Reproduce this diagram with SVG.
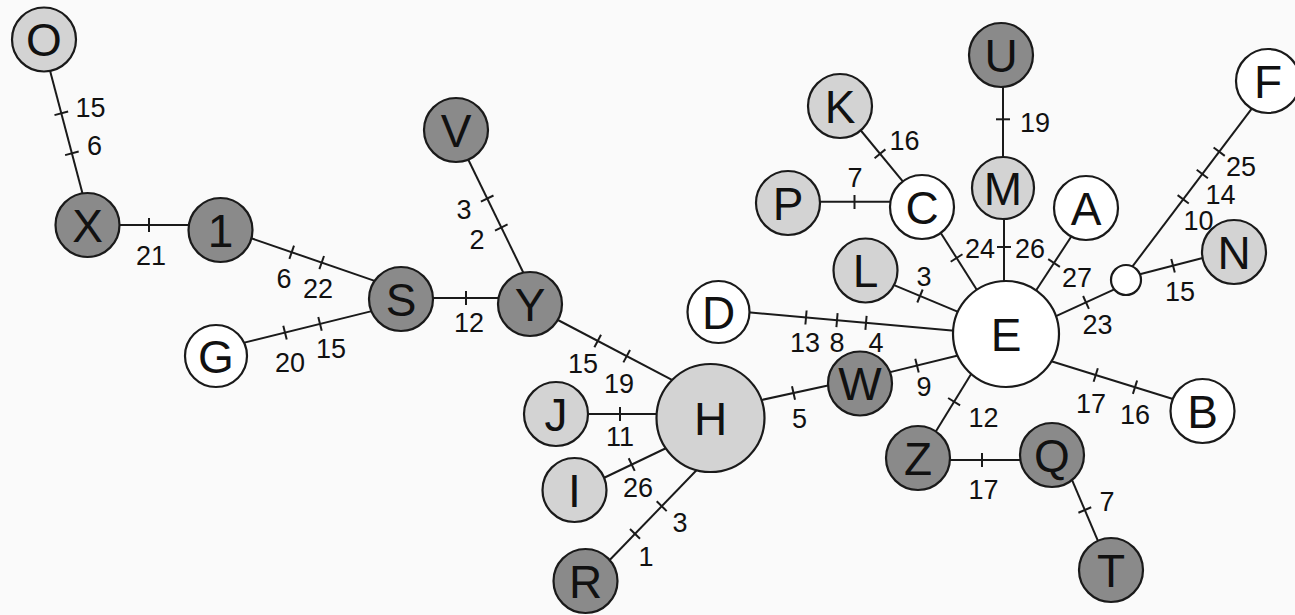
<svg xmlns="http://www.w3.org/2000/svg" width="1295" height="615" viewBox="0 0 1295 615">
<style>
.e line{stroke:#1a1a1a;stroke-width:2;fill:none}
.t{stroke:#1a1a1a;stroke-width:2}
.n circle{stroke:#1a1a1a;stroke-width:2.2}
.dk{fill:#8a8a8a}.lt{fill:#d3d3d3}.wh{fill:#ffffff}
.nl{font-family:"Liberation Sans",Arial,sans-serif;font-size:46px;fill:#111;text-anchor:middle}
.el{font-family:"Liberation Sans",Arial,sans-serif;font-size:27px;fill:#111;text-anchor:middle}
</style>
<rect width="1295" height="615" fill="#fafafa"/>
<g id="connectors" class="e">
<line x1="48" y1="63" x2="84.7" y2="201.7"/>
<line x1="54.5" y1="115.1" x2="68.1" y2="111.5"/><line x1="65.1" y1="155.1" x2="78.7" y2="151.5"/>
<line x1="112" y1="225" x2="196" y2="225"/>
<line x1="149" y1="218" x2="149" y2="232"/>
<line x1="244.4" y1="235.9" x2="382.6" y2="283.6"/>
<line x1="289.4" y1="258.8" x2="294" y2="245.6"/><line x1="319.4" y1="269.2" x2="324" y2="256"/>
<line x1="239.2" y1="343.9" x2="377.8" y2="309.6"/>
<line x1="283.3" y1="325.8" x2="286.7" y2="339.4"/><line x1="318.3" y1="317.1" x2="321.7" y2="330.7"/>
<line x1="425" y1="298" x2="506" y2="298"/>
<line x1="466" y1="291" x2="466" y2="305"/>
<line x1="464.8" y1="152.5" x2="527.5" y2="281.2"/>
<line x1="480.9" y1="201.7" x2="493.5" y2="195.5"/><line x1="495" y1="230.6" x2="507.6" y2="224.4"/>
<line x1="552.2" y1="317" x2="681" y2="384.7"/>
<line x1="594.4" y1="347.2" x2="601" y2="334.8"/><line x1="623.4" y1="362.4" x2="630" y2="350"/>
<line x1="582" y1="414" x2="664" y2="414"/>
<line x1="620" y1="407" x2="620" y2="421"/>
<line x1="599.5" y1="480" x2="670.5" y2="446"/>
<line x1="628.7" y1="458.3" x2="634.7" y2="470.9"/>
<line x1="606.1" y1="563.8" x2="702.3" y2="464.2"/>
<line x1="630" y1="529" x2="640" y2="538.8"/><line x1="656.7" y1="501.3" x2="666.7" y2="511.1"/>
<line x1="756.8" y1="401" x2="836" y2="383.7"/>
<line x1="792" y1="386.2" x2="795" y2="399.8"/>
<line x1="742.5" y1="311.8" x2="960" y2="331.2"/>
<line x1="806.6" y1="310.5" x2="805.4" y2="324.5"/><line x1="837.6" y1="313.2" x2="836.4" y2="327.2"/><line x1="866.6" y1="315.8" x2="865.4" y2="329.8"/>
<line x1="884" y1="373.6" x2="961" y2="354.8"/>
<line x1="915.3" y1="358.8" x2="918.7" y2="372.4"/>
<line x1="973.6" y1="369.9" x2="931.5" y2="438.5"/>
<line x1="948.1" y1="398" x2="960.1" y2="405.4"/>
<line x1="942" y1="460" x2="1028" y2="460"/>
<line x1="982" y1="453" x2="982" y2="467"/>
<line x1="1068.9" y1="472.6" x2="1100.7" y2="547.4"/>
<line x1="1078.4" y1="512.75" x2="1091.2" y2="507.25"/>
<line x1="1044.9" y1="359.3" x2="1178.6" y2="400.7"/>
<line x1="1097.8" y1="368.3" x2="1093.6" y2="381.7"/><line x1="1137.1" y1="380.5" x2="1132.9" y2="393.9"/>
<line x1="1051.1" y1="318.3" x2="1120.3" y2="286.7"/>
<line x1="1083.1" y1="296" x2="1088.9" y2="308.8"/>
<line x1="1133" y1="276" x2="1210.4" y2="256"/>
<line x1="1171.3" y1="258.9" x2="1174.8" y2="272.5"/>
<line x1="1127.2" y1="273.4" x2="1254.8" y2="104.6"/>
<line x1="1177.6" y1="195.1" x2="1188.8" y2="203.5"/><line x1="1196.7" y1="169.8" x2="1207.9" y2="178.2"/><line x1="1213.6" y1="147.5" x2="1224.8" y2="155.9"/>
<line x1="1033.2" y1="294.7" x2="1075.4" y2="230.3"/>
<line x1="1048.2" y1="259.2" x2="1059.9" y2="266.8"/>
<line x1="1004" y1="290" x2="1004" y2="211"/>
<line x1="997" y1="247" x2="1011" y2="247"/>
<line x1="1003" y1="164" x2="1003" y2="79"/>
<line x1="996" y1="119.3" x2="1010" y2="119.3"/>
<line x1="936.5" y1="226.2" x2="979.3" y2="293.8"/>
<line x1="950.7" y1="261.75" x2="962.5" y2="254.25"/>
<line x1="886.3" y1="281.9" x2="961.1" y2="313.1"/>
<line x1="922.7" y1="289.5" x2="917.3" y2="302.5"/>
<line x1="855.9" y1="124.5" x2="906.7" y2="186.2"/>
<line x1="874.6" y1="158.2" x2="885.4" y2="149.4"/>
<line x1="812" y1="201.7" x2="898" y2="201.7"/>
<line x1="854.5" y1="195" x2="854.5" y2="209"/>
</g>
<g id="edge-labels" class="el">
<text x="90.5" y="117">15</text><text x="94.5" y="155">6</text>
<text x="151" y="265">21</text>
<text x="284" y="288">6</text><text x="318" y="298">22</text>
<text x="290" y="372">20</text><text x="331" y="358">15</text>
<text x="469" y="332">12</text>
<text x="464" y="219">3</text><text x="477" y="249">2</text>
<text x="583" y="373">15</text><text x="619" y="393">19</text>
<text x="620" y="446">11</text>
<text x="638" y="497">26</text>
<text x="680" y="532">3</text><text x="646" y="566">1</text>
<text x="799.6" y="428">5</text>
<text x="805" y="352">13</text><text x="837" y="352">8</text><text x="876" y="352">4</text>
<text x="924" y="396">9</text>
<text x="983.5" y="427">12</text>
<text x="983.5" y="499">17</text>
<text x="1107" y="511">7</text>
<text x="1091" y="413">17</text><text x="1135" y="424">16</text>
<text x="1097.6" y="334">23</text>
<text x="1180" y="301">15</text>
<text x="1198.5" y="230">10</text><text x="1220.6" y="204">14</text><text x="1241" y="176">25</text>
<text x="1077" y="287">27</text>
<text x="1030" y="258">26</text>
<text x="980" y="258">24</text>
<text x="924" y="286">3</text>
<text x="904.6" y="150">16</text>
<text x="855" y="187">7</text>
<text x="1035" y="132">19</text>
</g>
<g id="node-O" class="n"><circle class="lt" cx="44" cy="39.5" r="32"/><text class="nl" x="44" y="56">O</text></g>
<g id="node-X" class="n"><circle class="dk" cx="87.5" cy="225" r="32"/><text class="nl" x="87.5" y="241.5">X</text></g>
<g id="node-1" class="n"><circle class="dk" cx="220.5" cy="230" r="32"/><text class="nl" x="220.5" y="246.5">1</text></g>
<g id="node-S" class="n"><circle class="dk" cx="401" cy="299" r="32"/><text class="nl" x="401" y="315.5">S</text></g>
<g id="node-G" class="n"><circle class="wh" cx="216" cy="356" r="31"/><text class="nl" x="216" y="372.5">G</text></g>
<g id="node-V" class="n"><circle class="dk" cx="456" cy="130" r="32"/><text class="nl" x="456" y="146.5">V</text></g>
<g id="node-Y" class="n"><circle class="dk" cx="530" cy="304" r="32"/><text class="nl" x="530" y="320.5">Y</text></g>
<g id="node-J" class="n"><circle class="lt" cx="556" cy="414" r="32"/><text class="nl" x="556" y="430.5">J</text></g>
<g id="node-I" class="n"><circle class="lt" cx="574.5" cy="490" r="32"/><text class="nl" x="574.5" y="506.5">I</text></g>
<g id="node-R" class="n"><circle class="dk" cx="585.5" cy="581" r="32"/><text class="nl" x="585.5" y="597.5">R</text></g>
<g id="node-H" class="n"><circle class="lt" cx="710.5" cy="418" r="54"/><text class="nl" x="710.5" y="434.5">H</text></g>
<g id="node-D" class="n"><circle class="wh" cx="718.5" cy="312" r="31"/><text class="nl" x="718.5" y="328.5">D</text></g>
<g id="node-W" class="n"><circle class="dk" cx="860" cy="383.5" r="32"/><text class="nl" x="860" y="400">W</text></g>
<g id="node-E" class="n"><circle class="wh" cx="1006" cy="334" r="53"/><text class="nl" x="1006" y="350.5">E</text></g>
<g id="node-Z" class="n"><circle class="dk" cx="918" cy="458" r="32"/><text class="nl" x="918" y="474.5">Z</text></g>
<g id="node-Q" class="n"><circle class="dk" cx="1052" cy="455" r="32"/><text class="nl" x="1052" y="471.5">Q</text></g>
<g id="node-T" class="n"><circle class="dk" cx="1111" cy="570" r="32"/><text class="nl" x="1111" y="586.5">T</text></g>
<g id="node-B" class="n"><circle class="wh" cx="1202.5" cy="411" r="32"/><text class="nl" x="1202.5" y="427.5">B</text></g>
<g id="node-hub" class="n"><circle class="wh" cx="1126" cy="280" r="15"/></g>
<g id="node-N" class="n"><circle class="lt" cx="1234" cy="252" r="32"/><text class="nl" x="1234" y="268.5">N</text></g>
<g id="node-F" class="n"><circle class="wh" cx="1268" cy="81" r="32"/><text class="nl" x="1268" y="97.5">F</text></g>
<g id="node-A" class="n"><circle class="wh" cx="1086" cy="208" r="32"/><text class="nl" x="1086" y="224.5">A</text></g>
<g id="node-M" class="n"><circle class="lt" cx="1003" cy="188" r="31"/><text class="nl" x="1003" y="204.5">M</text></g>
<g id="node-U" class="n"><circle class="dk" cx="1001" cy="55" r="32"/><text class="nl" x="1001" y="71.5">U</text></g>
<g id="node-C" class="n"><circle class="wh" cx="922" cy="207" r="32"/><text class="nl" x="922" y="223.5">C</text></g>
<g id="node-K" class="n"><circle class="lt" cx="840" cy="106" r="32"/><text class="nl" x="840" y="122.5">K</text></g>
<g id="node-P" class="n"><circle class="lt" cx="788" cy="203" r="32"/><text class="nl" x="788" y="219.5">P</text></g>
<g id="node-L" class="n"><circle class="lt" cx="865.5" cy="270.5" r="32"/><text class="nl" x="865.5" y="287">L</text></g>
</svg>
